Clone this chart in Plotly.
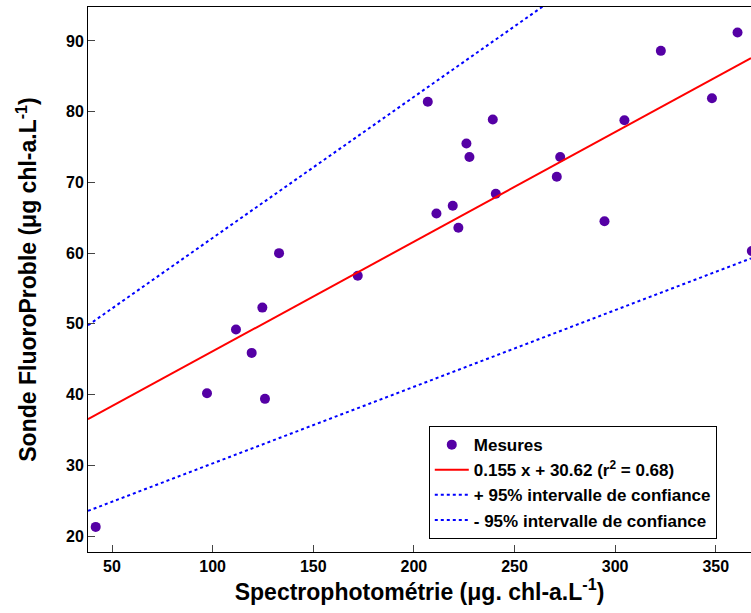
import plotly.graph_objects as go

# ------------------------------------------------------------------
# DATA
# ------------------------------------------------------------------

# Mesures : spectrophotométrie (x) vs sonde FluoroProbe (y)
spectro = [41.9, 97.2, 111.6, 119.4, 124.7, 126.0, 133.0, 172.1, 206.9, 211.2,
           219.3, 222.1, 226.1, 227.6, 239.2, 240.7, 271.0, 272.7, 294.7, 304.6,
           322.7, 348.1, 360.8, 367.9]
sonde = [21.3, 40.2, 49.2, 45.9, 52.3, 39.4, 60.0, 56.8, 81.4, 65.6,
         66.7, 63.6, 75.5, 73.6, 78.9, 68.4, 70.8, 73.6, 64.5, 78.8,
         88.6, 81.9, 91.2, 60.3]

# droite de régression 0.155 x + 30.62 (extrémités lues)
fit_x = [38.07, 367.5]
fit_y = [36.52, 87.58]

# intervalles de confiance à 95%
ci_up_x = [38.07, 367.5]
ci_up_y = [49.8, 115.5]
ci_low_x = [38.07, 367.5]
ci_low_y = [23.56, 59.26]

x_ticks = [50, 100, 150, 200, 250, 300, 350]
y_ticks = [20, 30, 40, 50, 60, 70, 80, 90]

FONT = "Liberation Sans, Arial, sans-serif"

fig = go.Figure()

fig.add_trace(go.Scatter(
    x=spectro, y=sonde, mode="markers", name="Mesures",
    marker=dict(color="rgb(85,0,165)", size=10),
))
fig.add_trace(go.Scatter(
    x=fit_x, y=fit_y, mode="lines",
    name="0.155 x + 30.62 (r<sup>2</sup> = 0.68)",
    line=dict(color="rgb(255,0,0)", width=2),
))
fig.add_trace(go.Scatter(
    x=ci_up_x, y=ci_up_y, mode="lines",
    name="+ 95% intervalle de confiance",
    line=dict(color="rgb(0,0,255)", width=2, dash="dot"),
))
fig.add_trace(go.Scatter(
    x=ci_low_x, y=ci_low_y, mode="lines",
    name="- 95% intervalle de confiance",
    line=dict(color="rgb(0,0,255)", width=2, dash="dot"),
))

fig.update_xaxes(
    range=[38.07, 367.5], tickvals=x_ticks, ticks="inside", ticklen=7,
    showline=True, linecolor="black", linewidth=1, mirror=True,
    showgrid=False, zeroline=False, automargin=False,
    tickfont=dict(size=16, family=FONT, weight="bold", color="black"),
    title=dict(text="Spectrophotométrie (μg. chl-a.L<sup>-1</sup>)",
               font=dict(size=23, family=FONT, weight="bold", color="black"),
               standoff=8),
)
fig.update_yaxes(
    range=[17.75, 94.8], tickvals=y_ticks, ticks="inside", ticklen=7,
    showline=True, linecolor="black", linewidth=1, mirror=False,
    showgrid=False, zeroline=False, automargin=False,
    tickfont=dict(size=16, family=FONT, weight="bold", color="black"),
    title=dict(text="Sonde FluoroProble (μg chl-a.L<sup>-1</sup>)",
               font=dict(size=23, family=FONT, weight="bold", color="black"),
               standoff=22),
)

fig.update_layout(
    width=751, height=613,
    margin=dict(l=88, r=0, t=7, b=61),
    plot_bgcolor="white", paper_bgcolor="white",
    font=dict(family=FONT, color="black"),
    legend=dict(
        x=0.514, y=0.231, xanchor="left", yanchor="top",
        bgcolor="white", bordercolor="black", borderwidth=1,
        itemwidth=34,
        font=dict(size=17, family=FONT, weight="bold", color="black"),
    ),
)

# la page ajoute une marge de 8 px autour du graphique : on l'enlève
fig.write_html(
    "out.html",
    config={"displayModeBar": False},
    post_script="document.body.style.margin = '0';",
)
